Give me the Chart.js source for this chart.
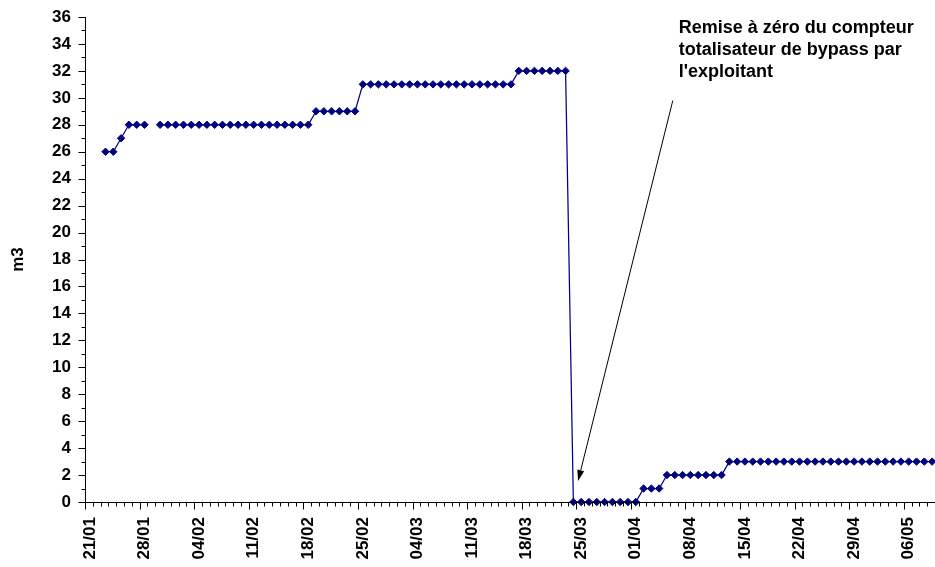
<!DOCTYPE html>
<html><head><meta charset="utf-8">
<script src="https://cdn.jsdelivr.net/npm/chart.js@4/dist/chart.umd.min.js"></script>
<style>html,body{margin:0;padding:0;background:#fff;overflow:hidden;width:935px;height:567px}#wrap{position:relative;width:941px;height:567px}</style>
</head><body><div id="wrap"><canvas id="c"></canvas></div>
<script>
const categories = [
 '21/01','22/01','23/01','24/01','25/01','26/01','27/01','28/01','29/01','30/01','31/01',
 '01/02','02/02','03/02','04/02','05/02','06/02','07/02','08/02','09/02','10/02','11/02','12/02','13/02','14/02','15/02','16/02','17/02','18/02','19/02','20/02','21/02','22/02','23/02','24/02','25/02','26/02','27/02','28/02',
 '01/03','02/03','03/03','04/03','05/03','06/03','07/03','08/03','09/03','10/03','11/03','12/03','13/03','14/03','15/03','16/03','17/03','18/03','19/03','20/03','21/03','22/03','23/03','24/03','25/03','26/03','27/03','28/03','29/03','30/03','31/03',
 '01/04','02/04','03/04','04/04','05/04','06/04','07/04','08/04','09/04','10/04','11/04','12/04','13/04','14/04','15/04','16/04','17/04','18/04','19/04','20/04','21/04','22/04','23/04','24/04','25/04','26/04','27/04','28/04','29/04','30/04',
 '01/05','02/05','03/05','04/05','05/05','06/05','07/05','08/05','09/05'
];
const volumes = [
 null,null,26,26,27,28,28,28,null,28,28,
 28,28,28,28,28,28,28,28,28,28,28,28,28,28,28,28,28,28,29,29,29,29,29,29,31,31,31,31,
 31,31,31,31,31,31,31,31,31,31,31,31,31,31,31,31,32,32,32,32,32,32,32,0,0,0,0,0,0,0,0,
 0,1,1,1,2,2,2,2,2,2,2,2,3,3,3,3,3,3,3,3,3,3,3,3,3,3,3,3,3,3,
 3,3,3,3,3,3,3,3,3
];
const xTickLabels = ['21/01','28/01','04/02','11/02','18/02','25/02','04/03','11/03','18/03','25/03','01/04','08/04','15/04','22/04','29/04','06/05'];
const yTickLabels = [0,2,4,6,8,10,12,14,16,18,20,22,24,26,28,30,32,34,36];

const annotation = {
  lines: ['Remise à zéro du compteur', 'totalisateur de bypass par', "l'exploitant"],
  textAt: {x: 75.5, y: 34.8},
  arrowFrom: {x: 74.75, y: 29.8},
  arrowTo: {x: 62.6, y: 1.56}
};

const FONT = '"Liberation Sans", Arial, Helvetica, sans-serif';

const axisPlugin = {
  id: 'axisPlugin',
  afterDraw(chart) {
    const ctx = chart.ctx, xs = chart.scales.x, ys = chart.scales.y;
    const a = chart.chartArea;
    ctx.save();
    ctx.strokeStyle = '#000'; ctx.lineWidth = 1;
    const L = Math.round(a.left) - 0.5, B = Math.round(a.bottom) + 0.5;
    ctx.beginPath();
    ctx.moveTo(L, Math.round(a.top)); ctx.lineTo(L, B);
    ctx.moveTo(L, B); ctx.lineTo(a.right, B);
    for (let i = 0; i <= categories.length; i++) {
      const px = Math.round(xs.getPixelForValue(i - 0.5)) - 0.5;
      const len = i % 7 === 0 ? 7 : 4;
      ctx.moveTo(px, B); ctx.lineTo(px, B + len);
    }
    for (let v = 0; v <= 36; v++) {
      const py = Math.round(ys.getPixelForValue(v)) + 0.5;
      const len = yTickLabels.includes(v) ? 7 : 4;
      ctx.moveTo(L, py); ctx.lineTo(L - len, py);
    }
    ctx.stroke();

    // annotation
    ctx.fillStyle = '#000';
    ctx.font = 'bold 18px ' + FONT;
    ctx.textBaseline = 'alphabetic'; ctx.textAlign = 'left';
    const tx = xs.getPixelForValue(annotation.textAt.x), ty = ys.getPixelForValue(annotation.textAt.y);
    annotation.lines.forEach((t, k) => ctx.fillText(t, tx, ty + k * 22));
    const x1 = xs.getPixelForValue(annotation.arrowFrom.x), y1 = ys.getPixelForValue(annotation.arrowFrom.y);
    const x2 = xs.getPixelForValue(annotation.arrowTo.x), y2 = ys.getPixelForValue(annotation.arrowTo.y);
    const ang = Math.atan2(y2 - y1, x2 - x1);
    const hl = 11, hw = 3.5;
    const bx = x2 - hl * Math.cos(ang), by = y2 - hl * Math.sin(ang);
    ctx.beginPath(); ctx.moveTo(x1, y1); ctx.lineTo(bx, by); ctx.lineWidth = 1; ctx.stroke();
    ctx.beginPath();
    ctx.moveTo(x2, y2);
    ctx.lineTo(bx + hw * Math.sin(ang), by - hw * Math.cos(ang));
    ctx.lineTo(bx - hw * Math.sin(ang), by + hw * Math.cos(ang));
    ctx.closePath(); ctx.fill();
    ctx.restore();
  }
};

new Chart(document.getElementById('c'), {
  type: 'line',
  data: {
    labels: categories,
    datasets: [{
      data: volumes,
      borderColor: '#000080',
      borderWidth: 1.25,
      pointStyle: 'rectRot',
      pointRadius: 3.7,
      pointBackgroundColor: '#000080',
      pointBorderColor: '#000080',
      pointBorderWidth: 1,
      tension: 0,
      spanGaps: false,
      clip: false
    }]
  },
  options: {
    responsive: true,
    maintainAspectRatio: false,
    animation: false,
    layout: {padding: {top: 17, right: 0, left: 0, bottom: 0}},
    plugins: {legend: {display: false}, tooltip: {enabled: false}},
    scales: {
      x: {
        type: 'category',
        offset: true,
        grid: {display: false, drawTicks: false},
        border: {display: false},
        ticks: {
          autoSkip: false, minRotation: 90, maxRotation: 90, padding: 15,
          color: '#000', font: {family: FONT, size: 17, weight: 'bold'},
          callback: function (v, i) { const l = categories[i]; return xTickLabels.includes(l) ? l : ''; }
        },
        afterFit(s) { s.height = 65; s.paddingLeft = 0; s.paddingRight = 0; }
      },
      y: {
        min: 0, max: 36,
        grid: {display: false, drawTicks: false},
        border: {display: false},
        ticks: {
          stepSize: 2, padding: 15, color: '#000',
          font: {family: FONT, size: 17, weight: 'bold'},
          callback: v => yTickLabels.includes(v) ? String(v) : ''
        },
        title: {display: true, text: 'm3', color: '#000', font: {family: FONT, size: 17, weight: 'bold'}, padding: {top: 8, bottom: 0}},
        afterFit(s) { s.width = 86; s.paddingTop = 0; s.paddingBottom = 0; }
      }
    }
  },
  plugins: [axisPlugin]
});
</script></body></html>
